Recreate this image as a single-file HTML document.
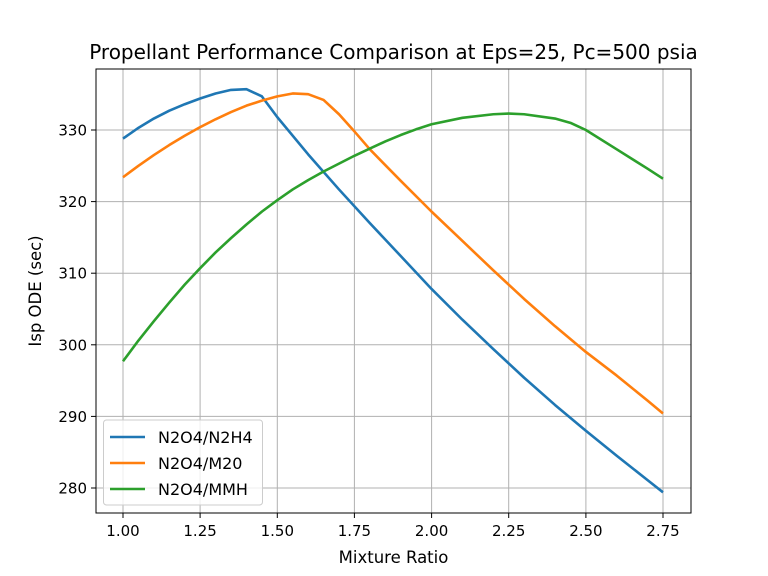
<!DOCTYPE html>
<html><head><style>body{margin:0;background:#fff}svg{display:block;font-family:"DejaVu Sans","Liberation Sans",sans-serif}</style></head>
<body>
<svg width="768" height="576" viewBox="0 0 768 576">
<rect width="768" height="576" fill="#fff"/>
<g stroke="#b0b0b0" stroke-width="1">
<line x1="123" y1="69" x2="123" y2="513"/><line x1="200.1" y1="69" x2="200.1" y2="513"/><line x1="277.3" y1="69" x2="277.3" y2="513"/><line x1="354.4" y1="69" x2="354.4" y2="513"/><line x1="431.6" y1="69" x2="431.6" y2="513"/><line x1="508.7" y1="69" x2="508.7" y2="513"/><line x1="585.9" y1="69" x2="585.9" y2="513"/><line x1="663" y1="69" x2="663" y2="513"/>
<line x1="96" y1="130" x2="691" y2="130"/><line x1="96" y1="201.6" x2="691" y2="201.6"/><line x1="96" y1="273.2" x2="691" y2="273.2"/><line x1="96" y1="344.8" x2="691" y2="344.8"/><line x1="96" y1="416.4" x2="691" y2="416.4"/><line x1="96" y1="488" x2="691" y2="488"/>
</g>
<g transform="translate(123,130) scale(308.57,-7.16) translate(-1,-330)" fill="none" stroke-width="2.6" stroke-linejoin="round">
<polyline vector-effect="non-scaling-stroke" stroke="#1f77b4" points="1.0,328.8 1.05,330.3 1.1,331.6 1.15,332.7 1.2,333.6 1.25,334.4 1.3,335.1 1.35,335.6 1.4,335.7 1.45,334.7 1.5,331.8 1.6,326.6 1.7,321.7 1.8,317.0 1.9,312.4 2.0,307.8 2.1,303.5 2.2,299.4 2.3,295.4 2.4,291.6 2.5,288.0 2.6,284.5 2.7,281.1 2.75,279.4"/>
<polyline vector-effect="non-scaling-stroke" stroke="#ff7f0e" points="1.0,323.4 1.05,325.0 1.1,326.5 1.15,327.9 1.2,329.2 1.25,330.4 1.3,331.5 1.35,332.5 1.4,333.4 1.45,334.1 1.5,334.7 1.55,335.1 1.6,335.0 1.65,334.2 1.7,332.2 1.75,329.8 1.8,327.3 1.9,322.9 2.0,318.6 2.1,314.5 2.2,310.4 2.3,306.4 2.4,302.6 2.5,299.0 2.6,295.7 2.7,292.2 2.75,290.4"/>
<polyline vector-effect="non-scaling-stroke" stroke="#2ca02c" points="1.0,297.7 1.05,300.6 1.1,303.3 1.15,305.9 1.2,308.4 1.25,310.7 1.3,312.9 1.35,314.9 1.4,316.8 1.45,318.6 1.5,320.2 1.55,321.7 1.6,323.0 1.65,324.2 1.7,325.3 1.75,326.4 1.8,327.4 1.85,328.4 1.9,329.3 1.95,330.1 2.0,330.8 2.1,331.7 2.2,332.2 2.25,332.3 2.3,332.2 2.4,331.6 2.45,331.0 2.5,330.0 2.6,327.3 2.7,324.6 2.75,323.2"/>
</g>
<rect x="96" y="69" width="595" height="444" fill="none" stroke="#000" stroke-width="1"/>
<g stroke="#000" stroke-width="1">
<line x1="123" y1="513" x2="123" y2="518"/><line x1="200.1" y1="513" x2="200.1" y2="518"/><line x1="277.3" y1="513" x2="277.3" y2="518"/><line x1="354.4" y1="513" x2="354.4" y2="518"/><line x1="431.6" y1="513" x2="431.6" y2="518"/><line x1="508.7" y1="513" x2="508.7" y2="518"/><line x1="585.9" y1="513" x2="585.9" y2="518"/><line x1="663" y1="513" x2="663" y2="518"/>
<line x1="91" y1="130" x2="96" y2="130"/><line x1="91" y1="201.6" x2="96" y2="201.6"/><line x1="91" y1="273.2" x2="96" y2="273.2"/><line x1="91" y1="344.8" x2="96" y2="344.8"/><line x1="91" y1="416.4" x2="96" y2="416.4"/><line x1="91" y1="488" x2="96" y2="488"/>
</g>
<g font-size="15" text-anchor="middle" fill="#000">
<text x="123" y="536">1.00</text><text x="200.1" y="536">1.25</text><text x="277.3" y="536">1.50</text><text x="354.4" y="536">1.75</text><text x="431.6" y="536">2.00</text><text x="508.7" y="536">2.25</text><text x="585.9" y="536">2.50</text><text x="663" y="536">2.75</text>
</g>
<g font-size="15" text-anchor="end" fill="#000">
<text x="87" y="135.5">330</text><text x="87" y="207">320</text><text x="87" y="278.7">310</text><text x="87" y="350.3">300</text><text x="87" y="422">290</text><text x="87" y="493.5">280</text>
</g>
<text x="393.5" y="563" font-size="16.5" text-anchor="middle">Mixture Ratio</text>
<text transform="translate(41,291) rotate(-90)" font-size="16.5" text-anchor="middle">Isp ODE (sec)</text>
<text x="393.5" y="59" font-size="20" text-anchor="middle">Propellant Performance Comparison at Eps=25, Pc=500 psia</text>
<rect x="103.5" y="420" width="159" height="85" rx="3" fill="#fff" fill-opacity="0.8" stroke="#ccc"/>
<line x1="110" y1="437" x2="145" y2="437" stroke="#1f77b4" stroke-width="2.6"/>
<line x1="110" y1="463" x2="145" y2="463" stroke="#ff7f0e" stroke-width="2.6"/>
<line x1="110" y1="489" x2="145" y2="489" stroke="#2ca02c" stroke-width="2.6"/>
<g font-size="16"><text x="158" y="443">N2O4/N2H4</text><text x="158" y="469">N2O4/M20</text><text x="158" y="495">N2O4/MMH</text></g>
</svg>
</body></html>
